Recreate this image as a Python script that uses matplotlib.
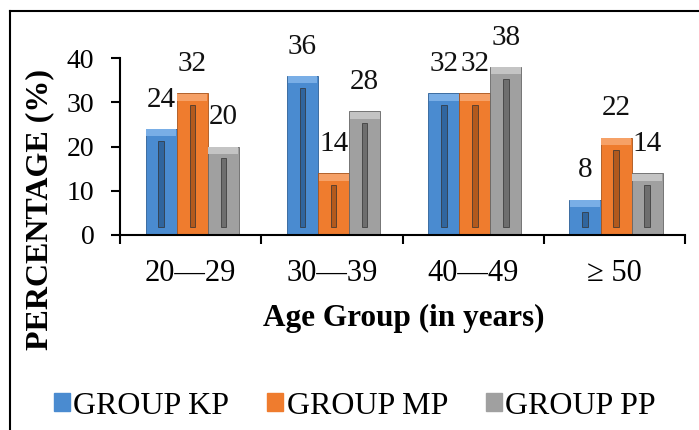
import matplotlib.pyplot as plt
import numpy as np
from matplotlib.lines import Line2D

# survey data: share of respondents per age band
age_groups = ["20\u201429", "30\u201439", "40\u201449", "\u2265 50"]
group_names = ["GROUP KP", "GROUP MP", "GROUP PP"]
kp = [24, 36, 32, 8]
mp = [32, 14, 32, 22]
pp = [20, 28, 38, 14]
colors = ["#4a8bd0", "#ef7c2e", "#a0a0a0"]
dark = ["#2c5f96", "#a8531a", "#666666"]
light = ["#79aee6", "#f6a167", "#c4c4c4"]

plt.rcParams['font.family'] = ['Liberation Serif', 'DejaVu Serif']

fig = plt.figure(figsize=(6.99, 4.30), dpi=100)
ax = fig.add_axes([0.1717, 0.4535, 0.8083, 0.4115])

x = np.arange(len(age_groups))
w = 0.22
series = [kp, mp, pp]
for i, vals in enumerate(series):
    pos = x + (i - 1) * w + 0.012
    vals = np.array(vals, dtype=float)
    # base bar
    ax.bar(pos, vals, w, color=colors[i], edgecolor=dark[i], linewidth=0.6,
           label=group_names[i], zorder=2)
    # lighter bevel on top
    ax.bar(pos, np.full_like(vals, 1.6), w * 0.96, bottom=vals - 1.7,
           color=light[i], linewidth=0, zorder=3)
    # central dark groove
    inner = np.clip(vals - 4.5, 0.8, None)
    ax.bar(pos, inner, w * 0.18, bottom=1.8, color=dark[i],
           edgecolor="#333333", linewidth=0.6, alpha=0.85, zorder=4)
    for p, v in zip(pos, vals):
        ax.annotate(f"{int(v)}", (p, v), xytext=(0, 16), textcoords="offset points",
                    ha="center", va="baseline", fontsize=21, color="#111111")

ax.set_xlim(-0.5, 3.5)
ax.set_ylim(0, 40)
ax.set_yticks([0, 10, 20, 30, 40])
ax.tick_params(axis="y", labelsize=20, length=6.5, width=1.5, direction="out", pad=12)
ax.set_xticks(np.arange(-0.5, 4.0, 1.0))
ax.set_xticklabels([])
ax.tick_params(axis="x", which="major", length=6.5, width=1.5, direction="out")
ax.set_xticks(x, minor=True)
ax.set_xticklabels(age_groups, minor=True)
ax.tick_params(axis="x", which="minor", length=0, labelsize=22, pad=17)

for s in ["top", "right"]:
    ax.spines[s].set_visible(False)
for s in ["left", "bottom"]:
    ax.spines[s].set_linewidth(1.5)

fig.text(40 / 699, 1 - 209 / 430, "PERCENTAGE (%)", rotation=90, ha="center",
         va="center", fontsize=23, fontweight="bold")
fig.text(404 / 699, 1 - 318 / 430, "Age Group (in years)", ha="center",
         va="center", fontsize=22.5, fontweight="bold")

handles = [plt.Rectangle((0, 0), 1, 1, color=c) for c in colors]
fig.legend(handles, group_names, loc="center", bbox_to_anchor=(355 / 699, 1 - 406 / 430),
           ncol=3, frameon=False, fontsize=23, handlelength=0.5, handleheight=0.5,
           handletextpad=0.1, columnspacing=1.2, borderpad=0)

# outer frame (left and top edges)
fig.add_artist(Line2D([10 / 699, 10 / 699], [0, 1 - 11 / 430], color="black", lw=1.5))
fig.add_artist(Line2D([10 / 699, 1], [1 - 11 / 430, 1 - 11 / 430], color="black", lw=1.5))

fig.savefig("out.png", dpi=100)
